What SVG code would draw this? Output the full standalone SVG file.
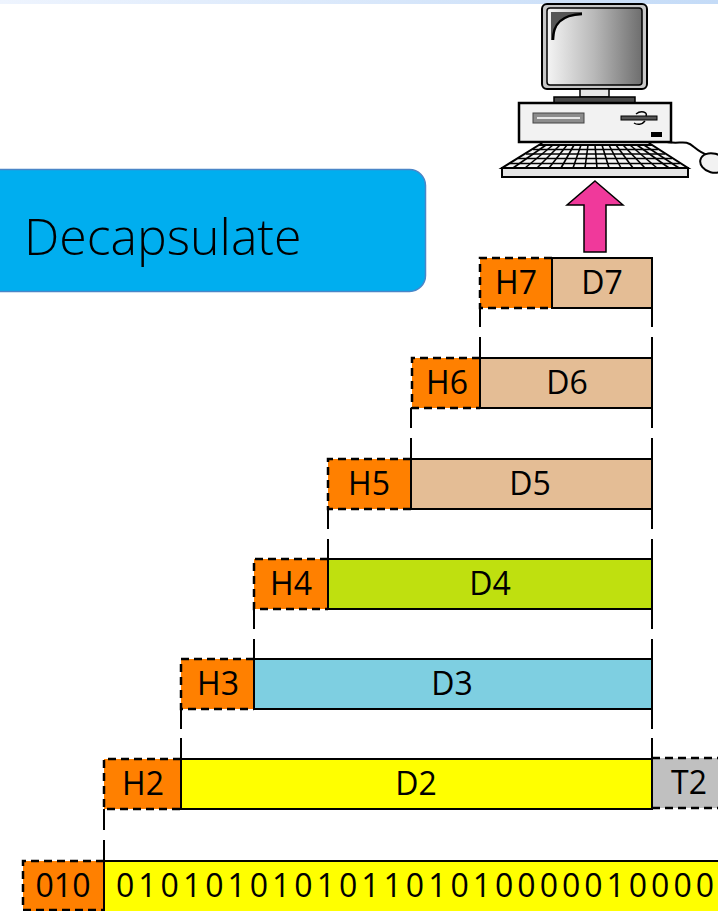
<svg xmlns="http://www.w3.org/2000/svg" width="718" height="911" viewBox="0 0 718 911">
  <defs>
    <linearGradient id="topband" x1="0" y1="0" x2="1" y2="0">
      <stop offset="0" stop-color="#eef4fe"/>
      <stop offset="1" stop-color="#c4dbf7"/>
    </linearGradient>
    <linearGradient id="screen" x1="0" y1="0" x2="1" y2="0">
      <stop offset="0" stop-color="#f4f4f4"/>
      <stop offset="0.5" stop-color="#b8b8b8"/>
      <stop offset="1" stop-color="#6e6e6e"/>
    </linearGradient>
    <style>
      .lbl { font-family: "Open Sans", "Noto Sans", sans-serif; font-size: 32px; fill: #000; text-anchor: middle; }
      .hdr { fill: #ff8000; stroke: none; }
      .dash { fill: none; stroke: #000; stroke-width: 2.5; stroke-dasharray: 8 5; }
      .data { stroke: #000; stroke-width: 2; }
      .conn { fill: none; stroke: #000; stroke-width: 2; }
      .ln { fill: none; stroke: #000; }
    </style>
  </defs>

  <rect x="0" y="0" width="718" height="4" fill="url(#topband)"/>

  <!-- Decapsulate label -->
  <g id="decapsulate">
    <rect x="-20" y="169.5" width="445.5" height="122" rx="16" fill="#00aeef" stroke="#4a86c8" stroke-width="1.5"/>
    <text x="24" y="255" font-family="'Open Sans', 'Noto Sans', sans-serif" font-weight="300" font-size="50" fill="#000">Decapsulate</text>
  </g>

  <!-- Computer -->
  <g id="computer">
    <!-- cable and mouse -->
    <path class="ln" stroke-width="2" d="M662,141 C680,146 684,138 694,147 C700,152 704,154 708,155"/>
    <ellipse cx="713" cy="163" rx="13" ry="9.5" fill="#f2f2f2" stroke="#000" stroke-width="2" transform="rotate(15 713 163)"/>
    <!-- monitor -->
    <rect x="542" y="4" width="105" height="85" rx="5" fill="#c8c8c8" stroke="#000" stroke-width="2"/>
    <rect x="547" y="8" width="95" height="77" rx="3" fill="url(#screen)" stroke="#000" stroke-width="1.5"/>
    <path d="M551,12 L582,12 L582,14 C562,15 554,24 554,40 L551,40 Z" fill="#555"/>
    <path class="ln" stroke-width="2.5" d="M553,40 C553,24 561,15 582,14"/>
    <rect x="580" y="89" width="29" height="8" fill="#e6e6e6" stroke="#000" stroke-width="1.5"/>
    <rect x="554" y="97" width="81" height="6" fill="#4a4a4a" stroke="#000" stroke-width="1.5"/>
    <!-- system unit -->
    <rect x="519" y="103" width="152" height="39" fill="#f2f2f2" stroke="#000" stroke-width="2.5"/>
    <rect x="533" y="113" width="51" height="10" fill="#8c8c8c" stroke="#444" stroke-width="1"/>
    <line x1="537" y1="118" x2="580" y2="118" stroke="#e6e6e6" stroke-width="2"/>
    <rect x="621" y="116" width="36" height="4" fill="#555" stroke="#000" stroke-width="1"/>
    <path class="ln" stroke-width="1.5" d="M636,114 C641,110 648,112 646,116 M645,121 C642,125 637,125 634,123"/>
    <rect x="651" y="132" width="11" height="5" fill="#000"/>
    <line x1="541" y1="142" x2="541" y2="146" stroke="#000" stroke-width="3"/>
    <line x1="650" y1="142" x2="650" y2="146" stroke="#000" stroke-width="3"/>
    <!-- keyboard -->
    <path d="M539,145 L652,145 L688,168 L502,168 Z" fill="#f4f4f4" stroke="#000" stroke-width="2"/>
    <g stroke="#000" stroke-width="1.6">
      <line x1="533" y1="149.5" x2="658" y2="149.5"/>
      <line x1="526" y1="154" x2="665" y2="154"/>
      <line x1="518" y1="158.5" x2="672" y2="158.5"/>
      <line x1="510" y1="163.5" x2="680" y2="163.5"/>
      <line x1="546" y1="145" x2="513" y2="168"/>
      <line x1="553" y1="145" x2="525" y2="168"/>
      <line x1="560" y1="145" x2="537" y2="168"/>
      <line x1="567" y1="145" x2="549" y2="168"/>
      <line x1="574" y1="145" x2="561" y2="168"/>
      <line x1="581" y1="145" x2="573" y2="168"/>
      <line x1="588" y1="145" x2="585" y2="168"/>
      <line x1="595" y1="145" x2="597" y2="168"/>
      <line x1="602" y1="145" x2="609" y2="168"/>
      <line x1="609" y1="145" x2="621" y2="168"/>
      <line x1="616" y1="145" x2="633" y2="168"/>
      <line x1="623" y1="145" x2="645" y2="168"/>
      <line x1="630" y1="145" x2="657" y2="168"/>
      <line x1="637" y1="145" x2="669" y2="168"/>
      <line x1="644" y1="145" x2="679" y2="168"/>
    </g>
    <rect x="502" y="168" width="186" height="9" fill="#e4e4e4" stroke="#000" stroke-width="2"/>
  </g>

  <!-- Upward arrow -->
  <g id="arrow">
    <polygon points="595,181 623,205 606,205 606,252 584,252 584,205 567,205" fill="#f0399b" stroke="#000" stroke-width="1.5" stroke-linejoin="miter"/>
  </g>

  <!-- Layer 7 -->
  <g id="layer7">
    <rect class="hdr" x="480" y="258" width="72" height="50"/>
    <path class="dash" d="M552,258 H480 V308 H552"/>
    <rect class="data" x="552" y="258" width="100" height="50" fill="#e4bd95"/>
    <text class="lbl" x="516" y="294">H7</text>
    <text class="lbl" x="602" y="294">D7</text>
  </g>

  <!-- Layer 6 -->
  <g id="layer6">
    <rect class="hdr" x="412" y="358" width="68" height="50"/>
    <path class="dash" d="M480,358 H412 V408 H480"/>
    <rect class="data" x="480" y="358" width="172" height="50" fill="#e4bd95"/>
    <text class="lbl" x="447" y="394">H6</text>
    <text class="lbl" x="567" y="394">D6</text>
  </g>

  <!-- Layer 5 -->
  <g id="layer5">
    <rect class="hdr" x="328" y="459" width="83" height="50"/>
    <path class="dash" d="M411,459 H328 V509 H411"/>
    <rect class="data" x="411" y="459" width="241" height="50" fill="#e4bd95"/>
    <text class="lbl" x="369" y="495">H5</text>
    <text class="lbl" x="530" y="495">D5</text>
  </g>

  <!-- Layer 4 -->
  <g id="layer4">
    <rect class="hdr" x="254" y="559" width="74" height="50"/>
    <path class="dash" d="M328,559 H254 V609 H328"/>
    <rect class="data" x="328" y="559" width="324" height="50" fill="#bfe00f"/>
    <text class="lbl" x="291" y="595">H4</text>
    <text class="lbl" x="490" y="595">D4</text>
  </g>

  <!-- Layer 3 -->
  <g id="layer3">
    <rect class="hdr" x="181" y="659" width="73" height="50"/>
    <path class="dash" d="M254,659 H181 V709 H254"/>
    <rect class="data" x="254" y="659" width="398" height="50" fill="#7ecfe1"/>
    <text class="lbl" x="218" y="695">H3</text>
    <text class="lbl" x="452" y="695">D3</text>
  </g>

  <!-- Layer 2 -->
  <g id="layer2">
    <rect class="hdr" x="104" y="759" width="77" height="50"/>
    <path class="dash" d="M181,759 H104 V809 H181"/>
    <rect x="652" y="758" width="80" height="50" fill="#c0c0c0"/>
    <path class="dash" d="M652,758 H730 M652,808 H730"/>
    <rect class="data" x="181" y="759" width="471" height="50" fill="#ffff00"/>
    <text class="lbl" x="143" y="795">H2</text>
    <text class="lbl" x="416" y="795">D2</text>
    <text class="lbl" x="689" y="794">T2</text>
  </g>

  <!-- Layer 1: bit stream -->
  <g id="layer1">
    <rect class="hdr" x="23" y="861" width="81" height="50"/>
    <path class="dash" d="M104,861 H23 V910 H104"/>
    <rect class="data" x="104" y="861" width="630" height="60" fill="#ffff00"/>
    <text class="lbl" x="63" y="897">010</text>
    <text class="lbl" x="116" y="897" style="text-anchor:start" textLength="598" lengthAdjust="spacing">010101010101101010000010000</text>
  </g>

  <!-- Connectors between layers -->
  <g id="connectors">
    <path class="conn" d="M480,308 V327 M480,337 V358 M652,308 V327 M652,337 V358"/>
    <path class="conn" d="M411,408 V428 M411,438 V459 M652,408 V428 M652,438 V459"/>
    <path class="conn" d="M328,509 V529 M328,539 V559 M652,509 V529 M652,539 V559"/>
    <path class="conn" d="M254,609 V629 M254,639 V659 M652,609 V629 M652,639 V659"/>
    <path class="conn" d="M181,709 V729 M181,738 V759 M652,709 V729 M652,738 V759"/>
    <path class="conn" d="M104,809 V830 M104,840 V861"/>
  </g>
</svg>
